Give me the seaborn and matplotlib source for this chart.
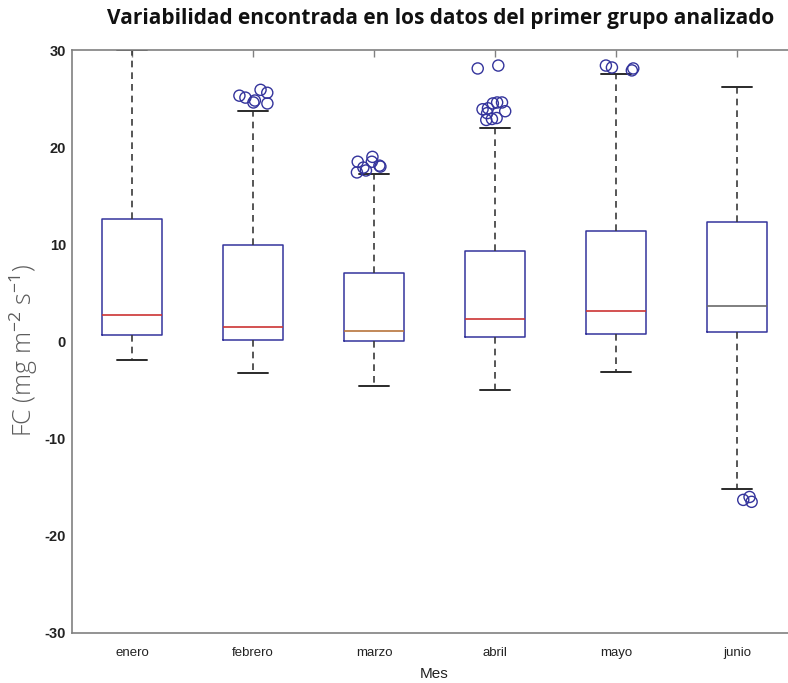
import numpy as np
import pandas as pd
import matplotlib
matplotlib.use("Agg")
import matplotlib.pyplot as plt
import seaborn as sns

# Monthly FC summary (lower whisker, Q1, median, Q3, upper whisker)
meses = ["enero", "febrero", "marzo", "abril", "mayo", "junio"]
bigote_inf = [-1.9, -3.2, -4.6, -5.0, -3.1, -15.2]
cuartil_1 = [0.7, 0.2, 0.1, 0.5, 0.8, 1.0]
mediana = [2.7, 1.5, 1.1, 2.3, 3.1, 3.7]
cuartil_3 = [12.6, 9.9, 7.0, 9.3, 11.4, 12.3]
bigote_sup = [30.0, 23.7, 17.2, 22.0, 27.5, 26.2]

# Atypical values per month
atipicos_febrero = [24.8, 25.9, 25.1, 24.6, 25.6, 24.5, 25.3]
atipicos_marzo = [17.9, 18.5, 18.5, 17.4, 19.0, 18.1, 17.6, 18.0]
atipicos_abril = [28.4, 28.1, 24.6, 22.8, 22.9, 23.5, 24.6, 24.5, 23.9, 23.0, 23.7, 24.0]
atipicos_mayo = [28.4, 28.2, 27.9, 28.1]
atipicos_junio = [-16.3, -16.5, -16.0]

y_ticks = [-30, -20, -10, 0, 10, 20, 30]

rows = []
for i, m in enumerate(meses):
    for v in (bigote_inf[i], cuartil_1[i], mediana[i], cuartil_3[i], bigote_sup[i]):
        rows.append((m, v))
resumen = pd.DataFrame(rows, columns=["Mes", "FC"])

out_rows = []
for m, vals in [("febrero", atipicos_febrero), ("marzo", atipicos_marzo),
                ("abril", atipicos_abril), ("mayo", atipicos_mayo),
                ("junio", atipicos_junio)]:
    out_rows += [(m, v) for v in vals]
atipicos = pd.DataFrame(out_rows, columns=["Mes", "FC"])

sns.set_theme(style="white")
plt.rcParams["font.family"] = ["Liberation Sans", "DejaVu Sans"]
plt.rcParams["mathtext.fontset"] = "custom"
plt.rcParams["mathtext.rm"] = "Open Sans"
plt.rcParams["mathtext.default"] = "rm"

fig = plt.figure(figsize=(7.88, 6.83), dpi=100)
ax = fig.add_axes([71.5 / 788, 50 / 683, 726 / 788, 583 / 683])

azul = "#34349c"
sns.boxplot(
    data=resumen, x="Mes", y="FC", order=meses, ax=ax,
    width=0.5, whis=(0, 100), fill=False, showfliers=False, color=azul,
    boxprops=dict(color=azul, linewidth=1.1),
    whiskerprops=dict(color="#3a3a3a", linestyle=(0, (4, 3)), linewidth=1.2),
    capprops=dict(color="#2a2a2a", linewidth=1.4),
    medianprops=dict(color="#cc3333", linewidth=1.2),
)

# median colour per box
colores_mediana = ["#cc3333", "#cc3333", "#b8743c", "#cc3333", "#cc3333", "#6a6a6a"]
cont = ax.containers[0]
for ln, c in zip(cont.medians, colores_mediana):
    ln.set_color(c)

np.random.seed(3)
n_before = len(ax.collections)
sns.stripplot(data=atipicos, x="Mes", y="FC", order=meses, ax=ax,
              jitter=0.15, size=8, marker="o", color=azul)
for coll in ax.collections[n_before:]:
    coll.set_facecolor("none")
    coll.set_edgecolor(azul)
    coll.set_linewidth(1.0)

ax.set_xlim(-0.5, 5.5)
ax.set_ylim(-30, 30)
ax.set_yticks(y_ticks)
ax.set_yticklabels([str(t) for t in y_ticks])

for s in ax.spines.values():
    s.set_visible(True)
    s.set_color("#808080")
    s.set_linewidth(1.2)

ax.tick_params(axis="both", direction="in", length=5, width=1, color="#808080",
               top=True, right=True, labelcolor="#222222")
ax.tick_params(axis="x", labelsize=9.5, pad=10)
ax.tick_params(axis="y", labelsize=10.5, pad=4)
for lab in ax.get_yticklabels():
    lab.set_fontweight("bold")

ax.set_xlabel("Mes", fontsize=11, color="#222222", labelpad=6)
ax.set_ylabel("FC (mg m$^{-2}$ s$^{-1}$)", fontsize=18, color="#5c5c5c",
              family=["Open Sans", "DejaVu Sans"], fontweight="light")
ax.yaxis.set_label_coords(-0.043, 0.485)
ax.set_title("Variabilidad encontrada en los datos del primer grupo analizado",
             fontsize=15, fontweight="bold", family=["Open Sans", "DejaVu Sans"],
             color="#111111", pad=19, x=0.509)

fig.savefig("out.png", dpi=100)
